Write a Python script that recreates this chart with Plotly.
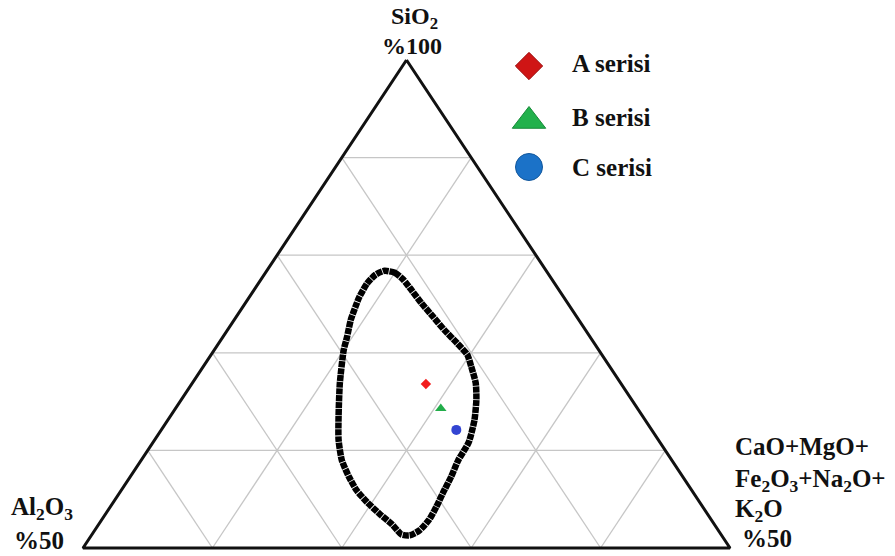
import plotly.graph_objects as go

# Ternary system: SiO2 (apex, 50-100 %), Al2O3 (left, 0-50 %),
# CaO+MgO+Fe2O3+Na2O+K2O (right, 0-50 %)
SIO2_MIN = 50.0
SPAN = 50.0

# Composition field boundary (wt %), clockwise from the top
field_sio2 = [78.4, 78.2, 77.5, 76.4, 75.1, 73.7, 72.3, 71.0, 69.8, 68.6,
              66.9, 65.2, 63.1, 60.8, 59.0, 57.3, 55.6, 54.2, 52.9, 51.8,
              51.3, 51.4, 52.4, 53.4, 54.7, 55.9, 57.3, 59.0, 61.1, 63.5,
              66.9, 70.3, 71.6, 73.4, 74.7, 75.7, 77.1, 78.0]
field_other = [9.1, 10.0, 11.0, 12.2, 13.6, 15.2, 16.8, 18.4, 19.8, 20.7,
               21.9, 22.8, 23.7, 24.4, 24.5, 24.8, 25.0, 25.2, 25.3, 25.1,
               24.6, 23.9, 22.7, 21.3, 19.6, 18.2, 16.9, 15.5, 14.2, 13.0,
               11.4, 10.0, 9.6, 9.0, 8.7, 8.5, 8.4, 8.6]
field_al2o3 = [round(100 - s - o, 1) for s, o in zip(field_sio2, field_other)]

# Sample series
series_names = ["A serisi", "B serisi", "C serisi"]
series_sio2 = [66.8, 64.3, 62.1]
series_al2o3 = [15.1, 15.2, 15.1]
series_other = [18.1, 20.5, 22.8]
series_symbols = ["diamond", "triangle-up", "circle"]
series_colors = ["#f21d1d", "#22ad4a", "#3345d2"]
series_sizes = [8, 10, 10]

# Legend key styling
legend_colors = ["#cf1515", "#22b14c", "#1b72c8"]
legend_lines = ["#9c0d0d", "#178a39", "#12579c"]
legend_sizes = [21, 29, 27]

# Grid levels (wt %)
grid_sio2 = [60, 70, 80, 90]
grid_al2o3 = [10, 20, 30, 40]
grid_other = [10, 20, 30, 40]

SERIF = "Liberation Serif"


def to_xy(sio2, al2o3, other):
    """Project a composition onto the triangle (base 0..1, apex at y=1)."""
    s = (sio2 - SIO2_MIN) / SPAN
    o = other / SPAN
    return o + s / 2.0, s


def project(sio2_list, al_list, other_list):
    xs, ys = [], []
    for s, a, o in zip(sio2_list, al_list, other_list):
        x, y = to_xy(s, a, o)
        xs.append(x)
        ys.append(y)
    return xs, ys


fig = go.Figure()

# Grid lines parallel to each side
gx, gy = [], []
segments = []
for v in grid_sio2:
    segments.append([(v, 100 - v, 0), (v, 0, 100 - v)])
for v in grid_al2o3:
    segments.append([(100 - v, v, 0), (SIO2_MIN, v, 100 - SIO2_MIN - v)])
for v in grid_other:
    segments.append([(100 - v, 0, v), (SIO2_MIN, 100 - SIO2_MIN - v, v)])
for seg in segments:
    for p in seg:
        x, y = to_xy(*p)
        gx.append(x)
        gy.append(y)
    gx.append(None)
    gy.append(None)

fig.add_trace(go.Scatter(x=gx, y=gy, mode="lines",
                         line=dict(color="#c6c6c6", width=1.3),
                         hoverinfo="skip", showlegend=False))

# Triangle frame
corners = [(100, 0, 0), (SIO2_MIN, 100 - SIO2_MIN, 0),
           (SIO2_MIN, 0, 100 - SIO2_MIN), (100, 0, 0)]
fx, fy = project([c[0] for c in corners], [c[1] for c in corners],
                 [c[2] for c in corners])
fig.add_trace(go.Scatter(x=fx, y=fy, mode="lines",
                         line=dict(color="#111111", width=3),
                         hoverinfo="skip", showlegend=False))

# Composition field boundary
bx, by = project(field_sio2 + field_sio2[:1], field_al2o3 + field_al2o3[:1],
                 field_other + field_other[:1])
fig.add_trace(go.Scatter(x=bx, y=by, mode="lines",
                         line=dict(color="#000000", width=6.5, shape="spline",
                                   smoothing=0.6, dash="6px,0.8px"),
                         hoverinfo="skip", showlegend=False))

# Sample series
for i, name in enumerate(series_names):
    x, y = to_xy(series_sio2[i], series_al2o3[i], series_other[i])
    fig.add_trace(go.Scatter(x=[x], y=[y], mode="markers", name=name,
                             marker=dict(symbol=series_symbols[i],
                                         color=series_colors[i],
                                         size=series_sizes[i], line=dict(width=0)),
                             showlegend=False))

# Legend keys on an overlay pixel axis
legend_sym_x = 529
legend_text_x = 570
legend_rows = [66, 121, 167]
legend_text_rows = [64, 117, 167]
for i, name in enumerate(series_names):
    fig.add_trace(go.Scatter(x=[legend_sym_x], y=[legend_rows[i]], mode="markers",
                             xaxis="x2", yaxis="y2", hoverinfo="skip",
                             marker=dict(symbol=series_symbols[i],
                                         color=legend_colors[i],
                                         size=legend_sizes[i],
                                         line=dict(color=legend_lines[i], width=1)),
                             showlegend=False))

W, H = 895, 556
annotations = []


def label(text, px, py, size=25, anchor="center"):
    annotations.append(dict(text=text, x=px / W, y=1 - py / H,
                            xref="paper", yref="paper", showarrow=False,
                            xanchor=anchor, yanchor="middle",
                            font=dict(family=SERIF, size=size, color="#111111",
                                      weight="bold")))


for i, name in enumerate(series_names):
    label(name, legend_text_x, legend_text_rows[i], size=25, anchor="left")

label("SiO<sub>2</sub>", 414, 18, size=24)
label("%100", 412, 46, size=24)
label("Al<sub>2</sub>O<sub>3</sub>", 42, 508, size=25)
label("%50", 39, 540, size=25)
label("CaO+MgO+", 733, 446, size=25, anchor="left")
label("Fe<sub>2</sub>O<sub>3</sub>+Na<sub>2</sub>O+", 733, 480, size=25, anchor="left")
label("K<sub>2</sub>O", 733, 511, size=25, anchor="left")
label("%50", 740, 538, size=25, anchor="left")

# Axis ranges place the base from x=83 to 730 px and the apex at y=60 px
x_lo, x_hi = -83 / 647, (W - 83) / 647
y_lo, y_hi = -(H - 548) / 488, 1 + 60 / 488

fig.update_layout(
    width=W, height=H,
    margin=dict(l=0, r=0, t=0, b=0),
    paper_bgcolor="white", plot_bgcolor="white",
    xaxis=dict(range=[x_lo, x_hi], visible=False, domain=[0, 1]),
    yaxis=dict(range=[y_lo, y_hi], visible=False, domain=[0, 1]),
    xaxis2=dict(range=[0, W], visible=False, overlaying="x", anchor="y2"),
    yaxis2=dict(range=[H, 0], visible=False, overlaying="y", anchor="x2"),
    annotations=annotations,
    showlegend=False,
)

fig.write_html("out.html")
